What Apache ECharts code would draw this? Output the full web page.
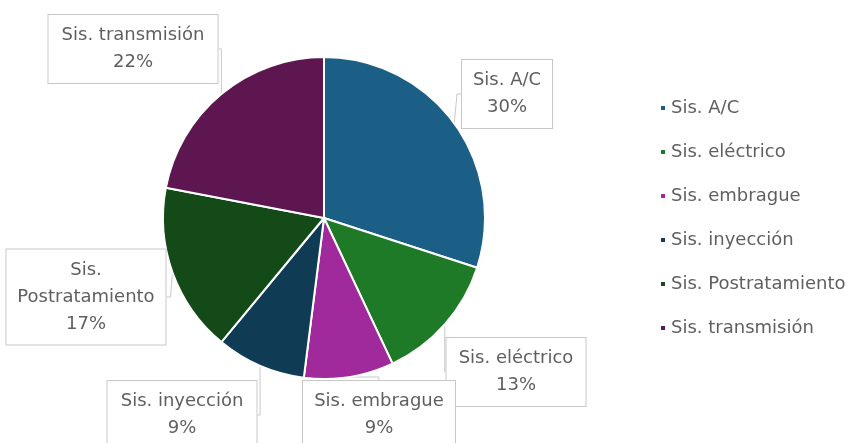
<!DOCTYPE html>
<html>
<head>
<meta charset="utf-8">
<script src="https://cdn.jsdelivr.net/npm/echarts@6/dist/echarts.min.js"></script>
<style>
html,body{margin:0;padding:0;background:#fff;}
#chart{width:865px;height:443px;}
</style>
</head>
<body>
<div id="chart"></div>
<script>
// Data
const categories = ['Sis. A/C', 'Sis. eléctrico', 'Sis. embrague', 'Sis. inyección', 'Sis. Postratamiento', 'Sis. transmisión'];
const shares = [30, 13, 9, 9, 17, 22];

// Styling / layout (not data)
const colors = ['#1b5f86', '#1f7a28', '#a02a9c', '#0f3b55', '#134a18', '#5d1650'];
// label box centers [cx, cy] and widths
const labelCenters = [[507, 94], [516, 372], [379, 415], [182, 415], [86, 297], [133, 49]];
const labelWidths = [90, 139, 152, 149, 159, 169];

const chart = echarts.init(document.getElementById('chart'), null, {renderer: 'canvas'});
const font = '"DejaVu Sans", "Open Sans", sans-serif';

const option = {
  animation: false,
  color: colors,
  legend: {
    orient: 'vertical',
    left: 659,
    top: 98,
    padding: 0,
    itemWidth: 6,
    itemHeight: 6,
    itemGap: 24,
    icon: 'rect',
    textStyle: {fontFamily: font, fontSize: 18, color: '#5f5f5f', lineHeight: 20},
    data: categories
  },
  series: [{
    type: 'pie',
    center: [324, 218],
    radius: 161,
    startAngle: 90,
    clockwise: true,
    itemStyle: {borderColor: '#ffffff', borderWidth: 2},
    label: {
      show: true,
      position: 'outside',
      fontFamily: font,
      fontSize: 18,
      lineHeight: 27,
      color: '#5f5f5f',
      backgroundColor: '#ffffff',
      borderColor: '#c8c8c8',
      borderWidth: 1,
      padding: [7, 0],
      align: 'center',
      formatter: function (p) {
        let n = p.name;
        if (n.length > 17) n = n.replace(' ', '\n');
        return n + '\n' + Math.round(p.percent) + '%';
      }
    },
    labelLine: {show: true, length: 4, length2: 4, lineStyle: {color: '#c8c8c8', width: 1}},
    labelLayout: function (params) {
      const c = labelCenters[params.dataIndex];
      return {x: c[0], y: c[1], align: 'center', verticalAlign: 'middle'};
    },
    data: categories.map(function (name, i) {
      return {name: name, value: shares[i], label: {width: labelWidths[i]}};
    })
  }]
};
chart.setOption(option);
</script>
</body>
</html>
